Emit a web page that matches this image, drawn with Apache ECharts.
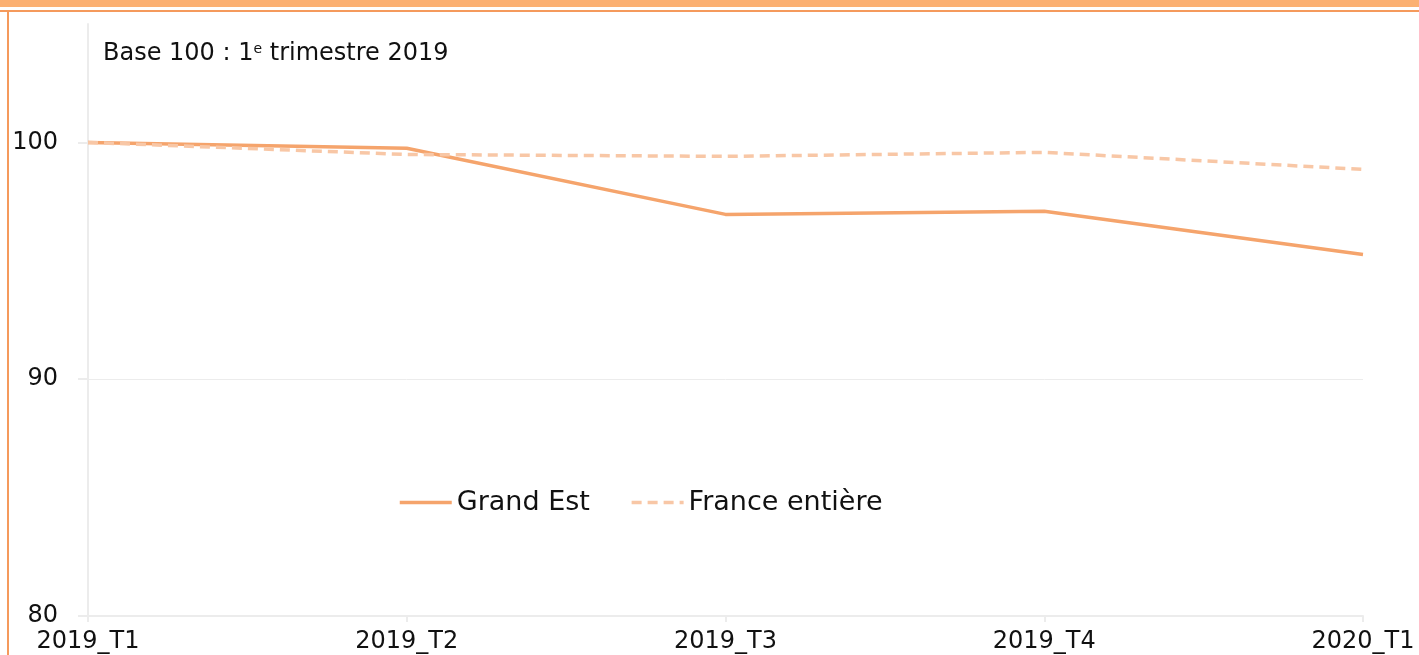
<!DOCTYPE html>
<html>
<head>
<meta charset="utf-8">
<script src="https://cdn.jsdelivr.net/npm/echarts@6/dist/echarts.min.js"></script>
<style>
  html, body { margin: 0; padding: 0; background: #fff; }
  #chart { width: 1419px; height: 655px; }
</style>
</head>
<body>
<div id="chart"></div>
<script>
const quarters = ["2019_T1", "2019_T2", "2019_T3", "2019_T4", "2020_T1"];
const grandEst = [100, 99.75, 96.96, 97.09, 95.27];
const franceEntiere = [100, 99.49, 99.41, 99.58, 98.86];
const yTicks = [80, 90, 100];

const orange = "#F5A46C";
const orangeLight = "#F8C7A6";
const gridGray = "#ececec";
const font = "DejaVu Sans";

const chart = echarts.init(document.getElementById("chart"));

chart.setOption({
  animation: false,
  textStyle: { fontFamily: font, color: "#111" },
  grid: { left: 88, right: 56, top: 24, bottom: 39 },
  graphic: [
    // bandeau du haut
    { type: "rect", shape: { x: 0, y: 0, width: 1419, height: 7 }, style: { fill: "#FBB072" } },
    // cadre
    { type: "rect", shape: { x: 0, y: 10, width: 1419, height: 2 }, style: { fill: "#F59A5C" } },
    { type: "rect", shape: { x: 7, y: 10, width: 2, height: 645 }, style: { fill: "#F59A5C" } },
    {
      type: "text",
      left: 103,
      top: 42,
      style: {
        text: "Base 100 : 1{sup|e} trimestre 2019",
        font: "24px " + font,
        fill: "#111",
        rich: {
          sup: { fontSize: 14, verticalAlign: "top", padding: [0, 0, 10, 0], fontFamily: font }
        }
      }
    }
  ],
  legend: {
    left: 393,
    top: 484,
    itemWidth: 52,
    itemHeight: 14,
    itemGap: 40,
    itemStyle: { opacity: 0 },
    lineStyle: { width: 3.5 },
    textStyle: { fontSize: 27, fontFamily: font, color: "#111", padding: [0, 0, 0, 0] },
    data: ["Grand Est", "France entière"]
  },
  xAxis: {
    type: "category",
    boundaryGap: false,
    data: quarters,
    axisLine: { lineStyle: { color: gridGray, width: 2 } },
    axisTick: { show: true, length: 6, lineStyle: { color: gridGray, width: 2 } },
    axisLabel: { fontSize: 24, color: "#111", margin: 14, fontFamily: font },
    splitLine: { show: false }
  },
  yAxis: {
    type: "value",
    min: 80,
    max: 105,
    interval: 10,
    axisLine: { show: true, lineStyle: { color: gridGray, width: 2 } },
    axisTick: { show: true, length: 10, inside: false, customValues: yTicks, lineStyle: { color: gridGray, width: 2 } },
    axisLabel: {
      fontSize: 24,
      color: "#111",
      margin: 30,
      fontFamily: font,
      customValues: yTicks,
      formatter: (v) => (v % 10 === 0 ? String(v) : "")
    },
    splitLine: { show: true, showMaxLine: false, lineStyle: { color: gridGray, width: 1 } }
  },
  series: [
    {
      name: "Grand Est",
      type: "line",
      data: grandEst,
      symbol: "none",
      lineStyle: { color: orange, width: 3.5 },
      itemStyle: { color: orange }
    },
    {
      name: "France entière",
      type: "line",
      data: franceEntiere,
      symbol: "none",
      lineStyle: { color: orangeLight, width: 3.5, type: [10, 6] },
      itemStyle: { color: orangeLight }
    }
  ]
});
</script>
</body>
</html>
